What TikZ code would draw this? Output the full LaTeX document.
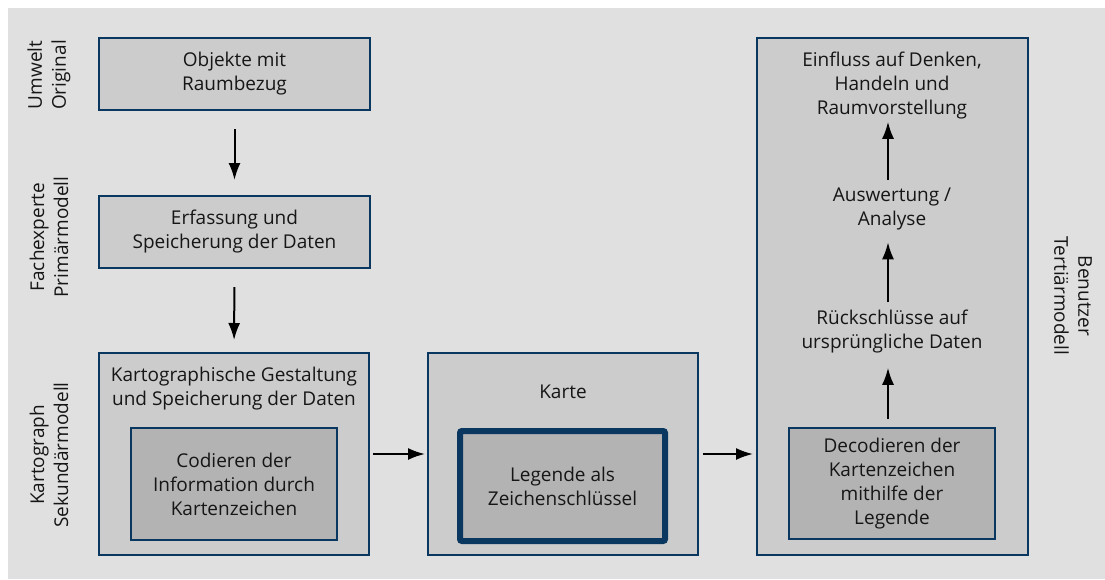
\documentclass[tikz,border=0pt]{standalone}
\usepackage{fontspec}
\setmainfont{Open Sans}
\usetikzlibrary{arrows.meta}
\definecolor{bg}{RGB}{224,224,224}
\definecolor{boxfill}{RGB}{204,204,204}
\definecolor{innerfill}{RGB}{179,179,179}
\definecolor{frame}{RGB}{10,55,95}
\definecolor{ink}{RGB}{22,22,22}
\begin{document}
\begin{tikzpicture}[x=1pt,y=-1pt,
  box/.style={draw=frame, line width=2pt, fill=boxfill, inner sep=0pt},
  inbox/.style={draw=frame, line width=2pt, fill=innerfill, inner sep=0pt},
  legbox/.style={draw=frame, line width=6pt, fill=innerfill, rounded corners=2pt, inner sep=0pt},
  txt/.style={font=\fontsize{19}{24}\selectfont, text=ink, align=center, inner sep=0pt},
  arr/.style={-{Latex[length=17pt,width=12pt]}, line width=2pt, black}
]
\useasboundingbox (0,0) rectangle (1105,579);
\fill[bg] (8,8) rectangle (1105,579);

% left column: original and primary model
\node[box, txt, minimum width=271pt, minimum height=72pt] (b1) at (234.5,74) {Objekte mit\\Raumbezug};
\node[box, txt, minimum width=271pt, minimum height=72pt] (b2) at (234.5,232) {Erfassung und\\Speicherung der Daten};

% secondary model
\node[box, minimum width=270pt, minimum height=202pt] (b3) at (234,454) {};
\node[txt] (t3) at (234,389) {Kartographische Gestaltung\\und Speicherung der Daten};
\node[inbox, txt, minimum width=206pt, minimum height=112pt] (c3) at (234,484) {Codieren der\\Information durch\\Kartenzeichen};

% map
\node[box, minimum width=270pt, minimum height=202pt] (b4) at (563,454) {};
\node[txt] (t4) at (563,392) {Karte};
\node[legbox, txt, minimum width=205pt, minimum height=110pt] (leg) at (562.5,486) {Legende als\\Zeichenschlüssel};

% tertiary model
\node[box, minimum width=271pt, minimum height=517pt] (b5) at (892.5,296.5) {};
\node[inbox, txt, minimum width=206pt, minimum height=111pt] (dec) at (892,483.5) {Decodieren der\\Kartenzeichen\\mithilfe der\\Legende};
\node[txt] (rueck) at (892,332) {Rückschlüsse auf\\ursprüngliche Daten};
\node[txt] (ausw) at (892,209) {Auswertung /\\Analyse};
\node[txt] (ein) at (892,86) {Einfluss auf Denken,\\Handeln und\\Raumvorstellung};

% side labels
\node[txt, rotate=90] (l1) at (49,75) {Umwelt\\Original};
\node[txt, rotate=90] (l2) at (49,237) {Fachexperte\\Primärmodell};
\node[txt, rotate=90] (l3) at (49,455) {Kartograph\\Sekundärmodell};
\node[txt, rotate=-90] (l4) at (1073,296) {Benutzer\\Tertiärmodell};

% flow arrows
\draw[arr, shorten <=18pt, shorten >=15pt] (b1.south) -- (b2.north);
\draw[arr, shorten <=18pt, shorten >=12pt] (b2.south) -- (b3.north);
\draw[arr, shorten <=3pt, shorten >=2pt] (b3.east) -- (b4.west);
\draw[arr, shorten <=4pt, shorten >=3pt] (b4.east) -- (b4.east -| b5.west);
\draw[arr, shorten <=8pt, shorten >=14pt] ([xshift=-4pt]dec.north) -- ([xshift=-4pt]rueck.south);
\draw[arr, shorten <=8pt, shorten >=12pt] ([xshift=-4pt]rueck.north) -- ([xshift=-4pt]ausw.south);
\draw[arr, shorten <=8pt, shorten >=2pt] ([xshift=-4pt]ausw.north) -- ([xshift=-4pt]ein.south);
\end{tikzpicture}
\end{document}
